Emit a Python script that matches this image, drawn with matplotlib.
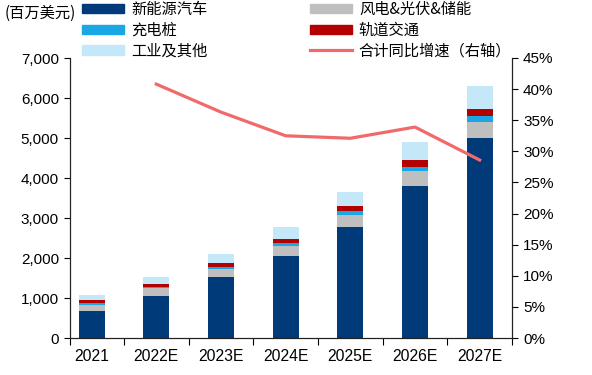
import numpy as np
import matplotlib
matplotlib.use('Agg')
import matplotlib.pyplot as plt
from matplotlib.ticker import FuncFormatter, FixedLocator
from matplotlib.patches import Patch
from matplotlib.lines import Line2D

plt.rcParams['font.family'] = ['Liberation Sans', 'Noto Sans CJK SC', 'DejaVu Sans']

years = ['2021', '2022E', '2023E', '2024E', '2025E', '2026E', '2027E']
nev = [680, 1047, 1521, 2060, 2776, 3798, 4988]
wind_solar = [150, 195, 200, 242, 306, 374, 413]
charging = [33, 30, 58, 82, 93, 107, 143]
rail = [85, 90, 107, 92, 132, 167, 192]
industry = [130, 167, 210, 299, 349, 457, 564]
growth = [np.nan, 0.408, 0.363, 0.325, 0.321, 0.339, 0.286]

series = [
    ('新能源汽车', nev, '#003A78'),
    ('风电&光伏&储能', wind_solar, '#BFBFBF'),
    ('充电桩', charging, '#1AA7E6'),
    ('轨道交通', rail, '#B30000'),
    ('工业及其他', industry, '#C5E8F8'),
]
line_color = '#F06A6A'

fig = plt.figure(figsize=(5.92, 3.75), dpi=100)
ax = fig.add_axes([70 / 592, 1 - 338 / 375, 442 / 592, 280 / 375])
ax2 = ax.twinx()

x = np.arange(len(years))
bottom = np.zeros(len(years))
for name, vals, color in series:
    ax.bar(x, vals, width=0.4, bottom=bottom, color=color, edgecolor='none', zorder=2)
    bottom += np.array(vals)

ax2.plot(x, growth, color=line_color, lw=2.3, zorder=3)

ax.set_xlim(-0.335, 6.5)
ax.set_ylim(0, 7000)
ax.set_yticks(np.arange(0, 7001, 1000))
ax.yaxis.set_major_formatter(FuncFormatter(lambda v, p: f'{v:,.0f}'))
ax2.set_ylim(0, 0.45)
ax2.set_yticks(np.arange(0, 0.451, 0.05))
ax2.yaxis.set_major_formatter(FuncFormatter(lambda v, p: f'{v * 100:.0f}%'))

ax.set_xticks(x)
ax.set_xticklabels(years)
ax.xaxis.set_minor_locator(FixedLocator([-0.335] + list(np.arange(0.5, 6.6, 1))))
ax.tick_params(axis='x', which='major', length=0, pad=8, labelsize=11.3)
ax.tick_params(axis='x', which='minor', length=5, width=0.8, direction='out')
ax.tick_params(axis='y', length=4, width=0.8, direction='out', labelsize=11, pad=4)
ax2.tick_params(axis='y', length=4, width=0.8, direction='out', labelsize=11, pad=4)

for a in (ax, ax2):
    a.spines['top'].set_visible(False)
    for s in ('left', 'right', 'bottom'):
        a.spines[s].set_linewidth(0.8)
        a.spines[s].set_color('#222222')

fig.text(5 / 592, 1 - 13 / 375, '(百万美元)', fontsize=11, va='center', ha='left',
         family=['Noto Sans CJK SC', 'DejaVu Sans'])

legend_font = {'family': ['Noto Sans CJK SC', 'DejaVu Sans'], 'size': 11}
h1 = [Patch(color=series[0][2]), Patch(color=series[2][2]), Patch(color=series[4][2])]
l1 = [series[0][0], series[2][0], series[4][0]]
h2 = [Patch(color=series[1][2]), Patch(color=series[3][2]), Line2D([], [], color=line_color, lw=2.3)]
l2 = [series[1][0], series[3][0], '合计同比增速（右轴）']

for handles, labels, xpos in ((h1, l1, 82), (h2, l2, 310)):
    leg = fig.legend(handles, labels, loc='upper left', bbox_to_anchor=(xpos / 592, 1 - 1 / 375),
                     frameon=False, prop=legend_font, handlelength=2.75, handleheight=0.55,
                     handletextpad=0.45, labelspacing=0.24, borderpad=0, borderaxespad=0)

fig.savefig('out.png', dpi=100, facecolor='white')
